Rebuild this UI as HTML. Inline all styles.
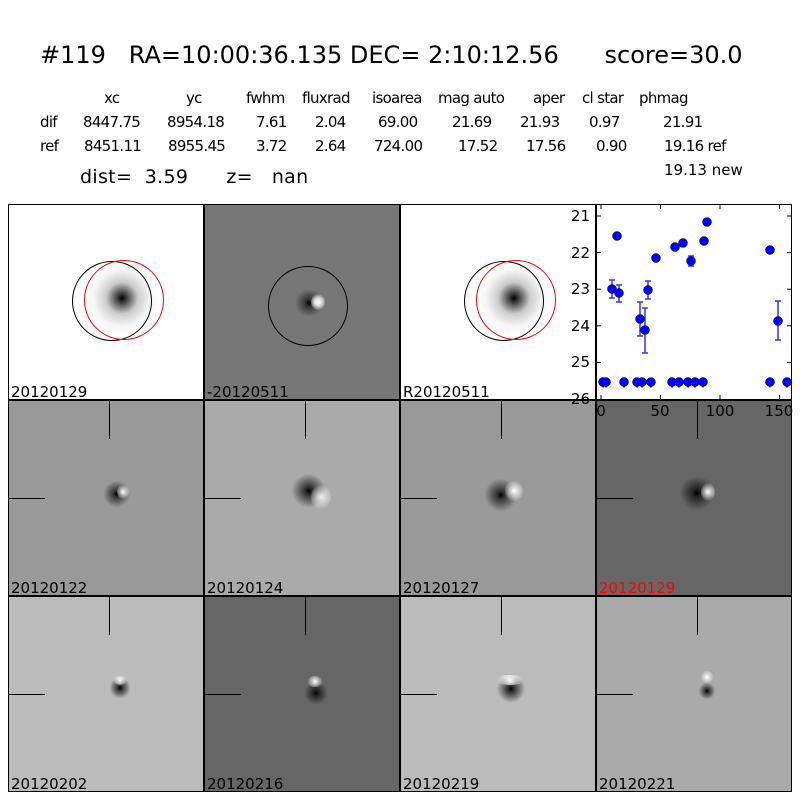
<!DOCTYPE html><html><head><style>
body{margin:0;background:#fff;width:800px;height:800px;position:relative;overflow:hidden;font-family:"DejaVu Sans","Liberation Sans",sans-serif}
.t{position:absolute;white-space:pre;color:#000}
.c{position:absolute;white-space:pre;font-size:15px;letter-spacing:-0.7px}
.p{position:absolute;width:196px;height:196px;border:1px solid #000;box-sizing:border-box;overflow:hidden}
.lb{position:absolute;left:2px;bottom:-2px;font-size:15px}
.v{position:absolute;left:100px;top:0;width:1px;height:38px;background:#000}
.h{position:absolute;left:0;top:97px;width:36px;height:1px;background:#000}
.s{position:absolute;border-radius:50%}
</style></head><body>
<div class="t" style="left:40px;top:41px;font-size:24px">#119   RA=10:00:36.135 DEC= 2:10:12.56      score=30.0</div>
<div class="c" style="left:104px;top:89px">xc</div><div class="c" style="left:186px;top:89px">yc</div><div class="c" style="left:246px;top:89px">fwhm</div><div class="c" style="left:302px;top:89px">fluxrad</div><div class="c" style="left:372px;top:89px">isoarea</div><div class="c" style="left:438px;top:89px">mag auto</div><div class="c" style="left:533px;top:89px">aper</div><div class="c" style="left:582px;top:89px">cl star</div><div class="c" style="left:639px;top:89px">phmag</div>
<div class="c" style="left:40px;top:113px">dif</div><div class="c" style="left:83px;top:113px">8447.75</div><div class="c" style="left:167px;top:113px">8954.18</div><div class="c" style="left:256px;top:113px">7.61</div><div class="c" style="left:315px;top:113px">2.04</div><div class="c" style="left:378px;top:113px">69.00</div><div class="c" style="left:452px;top:113px">21.69</div><div class="c" style="left:520px;top:113px">21.93</div><div class="c" style="left:589px;top:113px">0.97</div><div class="c" style="left:663px;top:113px">21.91</div>
<div class="c" style="left:40px;top:137px">ref</div><div class="c" style="left:84px;top:137px">8451.11</div><div class="c" style="left:168px;top:137px">8955.45</div><div class="c" style="left:256px;top:137px">3.72</div><div class="c" style="left:315px;top:137px">2.64</div><div class="c" style="left:374px;top:137px">724.00</div><div class="c" style="left:458px;top:137px">17.52</div><div class="c" style="left:526px;top:137px">17.56</div><div class="c" style="left:596px;top:137px">0.90</div><div class="c" style="left:664px;top:137px">19.16 ref</div>
<div class="c" style="left:664px;top:161px;letter-spacing:0">19.13 new</div>
<div class="t" style="left:80px;top:166px;font-size:19px;letter-spacing:0.3px">dist=  3.59      z=   nan</div>

<div class="p" style="left:8px;top:204px;background:#fff"><div class="s" style="left:68px;top:48px;width:90px;height:90px;background:radial-gradient(circle,#000 0,#444 8%,#ccc 25%,#f6f6f6 45%,#fff 60%)"></div>
<div class="s" style="left:63px;top:56px;width:78px;height:78px;border:1px solid #000"></div><div class="s" style="left:75px;top:55px;width:78px;height:78px;border:1px solid red"></div><div class="lb">20120129</div></div>
<div class="p" style="left:204px;top:204px;background:#777"><div class="s" style="left:88px;top:78px;width:40px;height:40px;background:radial-gradient(circle at 40% 50%,#000 0,#333 12%,transparent 45%)"></div><div class="s" style="left:106px;top:89px;width:14px;height:16px;background:radial-gradient(circle,#fff 0,#ddd 35%,transparent 80%)"></div>
<div class="s" style="left:63px;top:61px;width:78px;height:78px;border:1px solid #000"></div><div class="lb">-20120511</div></div>
<div class="p" style="left:400px;top:204px;background:#fff"><div class="s" style="left:68px;top:48px;width:90px;height:90px;background:radial-gradient(circle,#000 0,#444 8%,#ccc 25%,#f6f6f6 45%,#fff 60%)"></div>
<div class="s" style="left:63px;top:56px;width:78px;height:78px;border:1px solid #000"></div><div class="s" style="left:75px;top:55px;width:78px;height:78px;border:1px solid red"></div><div class="lb">R20120511</div></div>

<div class="p" style="left:8px;top:400px;background:#999"><div class="v"></div><div class="h"></div><div class="s" style="left:94px;top:76px;width:34px;height:34px;background:radial-gradient(circle at 40% 50%,#000 0,#333 12%,transparent 50%)"></div><div class="s" style="left:108px;top:84px;width:12px;height:14px;background:radial-gradient(circle,#fff 0,transparent 80%)"></div><div class="lb">20120122</div></div>
<div class="p" style="left:204px;top:400px;background:#aaa"><div class="v"></div><div class="h"></div><div class="s" style="left:84px;top:70px;width:44px;height:44px;background:radial-gradient(circle at 45% 45%,#000 0,#333 12%,transparent 50%)"></div><div class="s" style="left:106px;top:84px;width:20px;height:24px;background:radial-gradient(circle,#eee 0,transparent 80%)"></div><div class="lb">20120124</div></div>
<div class="p" style="left:400px;top:400px;background:#999"><div class="v"></div><div class="h"></div><div class="s" style="left:80px;top:72px;width:44px;height:44px;background:radial-gradient(circle at 45% 50%,#000 0,#333 12%,transparent 50%)"></div><div class="s" style="left:104px;top:80px;width:18px;height:20px;background:radial-gradient(circle,#fff 0,transparent 80%)"></div><div class="lb">20120127</div></div>
<div class="p" style="left:596px;top:400px;background:#666"><div class="v"></div><div class="h"></div><div class="s" style="left:76px;top:68px;width:48px;height:48px;background:radial-gradient(circle at 50% 50%,#000 0,#222 12%,transparent 50%)"></div><div class="s" style="left:104px;top:82px;width:14px;height:18px;background:radial-gradient(circle,#fff 0,transparent 80%)"></div><div class="lb" style="color:red">20120129</div></div>

<div class="p" style="left:8px;top:596px;background:#bbb"><div class="v"></div><div class="h"></div><div class="s" style="left:96px;top:76px;width:30px;height:30px;background:radial-gradient(circle,#000 0,#333 12%,transparent 50%)"></div><div class="s" style="left:104px;top:79px;width:14px;height:9px;background:radial-gradient(circle,#fff 0,transparent 80%)"></div><div class="lb">20120202</div></div>
<div class="p" style="left:204px;top:596px;background:#666"><div class="v"></div><div class="h"></div><div class="s" style="left:96px;top:78px;width:30px;height:30px;background:radial-gradient(circle at 50% 60%,#000 0,#222 12%,transparent 50%)"></div><div class="s" style="left:102px;top:79px;width:16px;height:11px;background:radial-gradient(circle,#fff 0,transparent 80%)"></div><div class="lb">20120216</div></div>
<div class="p" style="left:400px;top:596px;background:#bbb"><div class="v"></div><div class="h"></div><div class="s" style="left:90px;top:72px;width:40px;height:36px;background:radial-gradient(circle at 50% 55%,#000 0,#333 12%,transparent 50%)"></div><div class="s" style="left:94px;top:78px;width:30px;height:10px;background:radial-gradient(circle,#fff 0,transparent 80%)"></div><div class="lb">20120219</div></div>
<div class="p" style="left:596px;top:596px;background:#aaa"><div class="v"></div><div class="h"></div><div class="s" style="left:98px;top:82px;width:24px;height:24px;background:radial-gradient(circle,#000 0,#333 12%,transparent 50%)"></div><div class="s" style="left:104px;top:74px;width:12px;height:12px;background:radial-gradient(circle,#fff 0,transparent 80%)"></div><div class="lb">20120221</div></div>

<svg style="position:absolute;left:0;top:0" width="800" height="800">
<rect x="596.5" y="204.5" width="195" height="195" fill="#fff" stroke="#000"/>
<g stroke="#000">
<line x1="597" y1="216" x2="601" y2="216"/><line x1="597" y1="252.6" x2="601" y2="252.6"/><line x1="597" y1="289.2" x2="601" y2="289.2"/><line x1="597" y1="325.8" x2="601" y2="325.8"/><line x1="597" y1="362.4" x2="601" y2="362.4"/>
<line x1="787" y1="216" x2="791" y2="216"/><line x1="787" y1="252.6" x2="791" y2="252.6"/><line x1="787" y1="289.2" x2="791" y2="289.2"/><line x1="787" y1="325.8" x2="791" y2="325.8"/><line x1="787" y1="362.4" x2="791" y2="362.4"/>
<line x1="601" y1="205" x2="601" y2="209"/><line x1="660.5" y1="205" x2="660.5" y2="209"/><line x1="720" y1="205" x2="720" y2="209"/><line x1="779.5" y1="205" x2="779.5" y2="209"/>
<line x1="601" y1="395" x2="601" y2="399"/><line x1="660.5" y1="395" x2="660.5" y2="399"/><line x1="720" y1="395" x2="720" y2="399"/><line x1="779.5" y1="395" x2="779.5" y2="399"/>
</g>
<g font-size="15" font-family="DejaVu Sans,Liberation Sans,sans-serif" text-anchor="end">
<text x="590" y="221">21</text><text x="590" y="258">22</text><text x="590" y="294">23</text><text x="590" y="331">24</text><text x="590" y="367">25</text><text x="590" y="404">26</text></g>
<g font-size="15" font-family="DejaVu Sans,Liberation Sans,sans-serif" text-anchor="middle">
<text x="601" y="416">0</text><text x="660" y="416">50</text><text x="720" y="416">100</text><text x="779" y="416">150</text></g>
<g stroke="#33f" stroke-width="1.5">
<line x1="612" y1="280" x2="612" y2="298"/><line x1="609" y1="280" x2="615" y2="280"/><line x1="609" y1="298" x2="615" y2="298"/>
<line x1="619" y1="285" x2="619" y2="302"/><line x1="616" y1="285" x2="622" y2="285"/><line x1="616" y1="302" x2="622" y2="302"/>
<line x1="640" y1="302" x2="640" y2="336"/><line x1="637" y1="302" x2="643" y2="302"/><line x1="637" y1="336" x2="643" y2="336"/>
<line x1="645" y1="308" x2="645" y2="353"/><line x1="642" y1="308" x2="648" y2="308"/><line x1="642" y1="353" x2="648" y2="353"/>
<line x1="648" y1="281" x2="648" y2="299"/><line x1="645" y1="281" x2="651" y2="281"/><line x1="645" y1="299" x2="651" y2="299"/>
<line x1="691" y1="256" x2="691" y2="266"/><line x1="688" y1="256" x2="694" y2="256"/><line x1="688" y1="266" x2="694" y2="266"/>
<line x1="778" y1="301" x2="778" y2="340"/><line x1="775" y1="301" x2="781" y2="301"/><line x1="775" y1="340" x2="781" y2="340"/>
</g>
<g fill="#00f">
<path d="M600 384h6l-3 4z M603 384h6l-3 4z M621 384h6l-3 4z M634 384h6l-3 4z M639 384h6l-3 4z M648 384h6l-3 4z M669 384h6l-3 4z M676 384h6l-3 4z M685 384h6l-3 4z M692 384h6l-3 4z M700 384h6l-3 4z M767 384h6l-3 4z M784 384h6l-3 4z"/>
</g>
<g fill="#00f" stroke="#000" stroke-width="0.5">
<circle cx="603" cy="382" r="4.5"/><circle cx="606" cy="382" r="4.5"/><circle cx="612" cy="289" r="4.5"/><circle cx="617" cy="236" r="4.5"/><circle cx="619" cy="293" r="4.5"/><circle cx="624" cy="382" r="4.5"/><circle cx="637" cy="382" r="4.5"/><circle cx="640" cy="319" r="4.5"/><circle cx="642" cy="382" r="4.5"/><circle cx="645" cy="330" r="4.5"/><circle cx="648" cy="290" r="4.5"/><circle cx="651" cy="382" r="4.5"/><circle cx="656" cy="258" r="4.5"/><circle cx="672" cy="382" r="4.5"/><circle cx="675" cy="247" r="4.5"/><circle cx="679" cy="382" r="4.5"/><circle cx="683" cy="243" r="4.5"/><circle cx="688" cy="382" r="4.5"/><circle cx="691" cy="261" r="4.5"/><circle cx="695" cy="382" r="4.5"/><circle cx="703" cy="382" r="4.5"/><circle cx="704" cy="241" r="4.5"/><circle cx="707" cy="222" r="4.5"/><circle cx="770" cy="250" r="4.5"/><circle cx="770" cy="382" r="4.5"/><circle cx="778" cy="321" r="4.5"/><circle cx="787" cy="382" r="4.5"/>
</g>
</svg>
</body></html>
